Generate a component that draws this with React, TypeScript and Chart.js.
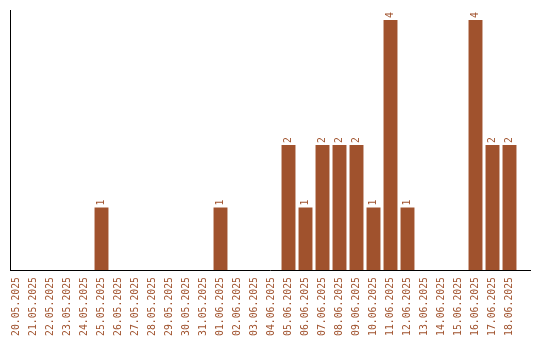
import React, { useEffect, useRef } from "react";
import { Chart, registerables } from "chart.js";

Chart.register(...registerables);

const dates = [
  "20.05.2025", "21.05.2025", "22.05.2025", "23.05.2025", "24.05.2025",
  "25.05.2025", "26.05.2025", "27.05.2025", "28.05.2025", "29.05.2025",
  "30.05.2025", "31.05.2025", "01.06.2025", "02.06.2025", "03.06.2025",
  "04.06.2025", "05.06.2025", "06.06.2025", "07.06.2025", "08.06.2025",
  "09.06.2025", "10.06.2025", "11.06.2025", "12.06.2025", "13.06.2025",
  "14.06.2025", "15.06.2025", "16.06.2025", "17.06.2025", "18.06.2025",
];
const counts = [
  0, 0, 0, 0, 0,
  1, 0, 0, 0, 0,
  0, 0, 1, 0, 0,
  0, 2, 1, 2, 2,
  2, 1, 4, 1, 0,
  0, 0, 4, 2, 2,
];

const BROWN = "#a0522d";
const FONT = "DejaVu Sans Mono";

const valueLabels = {
  id: "valueLabels",
  afterDatasetsDraw(chart: any) {
    const ctx = chart.ctx;
    const meta = chart.getDatasetMeta(0);
    ctx.save();
    ctx.fillStyle = BROWN;
    ctx.font = `9.8px "${FONT}"`;
    ctx.textAlign = "left";
    ctx.textBaseline = "middle";
    meta.data.forEach((bar: any, i: number) => {
      const v = counts[i];
      if (!v) return;
      ctx.save();
      ctx.translate(bar.x, bar.y - 2);
      ctx.rotate(-Math.PI / 2);
      ctx.fillText(String(v), 0, 0);
      ctx.restore();
    });
    ctx.restore();
  },
};

const axisLines = {
  id: "axisLines",
  afterDraw(chart: any) {
    const { ctx, chartArea } = chart;
    ctx.save();
    ctx.strokeStyle = "#000";
    ctx.lineWidth = 1;
    ctx.beginPath();
    ctx.moveTo(10.5, chartArea.top);
    ctx.lineTo(10.5, chartArea.bottom + 1);
    ctx.moveTo(10, chartArea.bottom + 0.5);
    ctx.lineTo(531, chartArea.bottom + 0.5);
    ctx.stroke();
    ctx.restore();
  },
};

export default function App() {
  const ref = useRef<HTMLCanvasElement>(null);
  useEffect(() => {
    if (!ref.current) return;
    const chart = new Chart(ref.current, {
      type: "bar",
      data: {
        labels: dates,
        datasets: [
          {
            data: counts,
            backgroundColor: BROWN,
            borderWidth: 0,
            barPercentage: 0.82,
            categoryPercentage: 1,
          },
        ],
      },
      options: {
        responsive: false,
        animation: false,
        layout: { padding: { top: 10, left: 8, right: 22, bottom: 0 } },
        plugins: { legend: { display: false }, tooltip: { enabled: false } },
        scales: {
          x: {
            grid: { display: false, drawTicks: false },
            border: { display: false },
            afterFit(scale: any) {
              scale.height = 70;
            },
            ticks: {
              color: BROWN,
              font: { family: FONT, size: 9.8 },
              minRotation: 90,
              maxRotation: 90,
              autoSkip: false,
              padding: 7,
            },
          },
          y: {
            display: false,
            min: 0,
            max: 4.16,
          },
        },
      },
      plugins: [valueLabels, axisLines],
    });
    return () => chart.destroy();
  }, []);
  return (
    <div style={{ position: "fixed", left: 0, top: 0, width: 540, height: 340, background: "#fff" }}>
      <canvas ref={ref} width={540} height={340} style={{ display: "block" }} />
    </div>
  );
}
